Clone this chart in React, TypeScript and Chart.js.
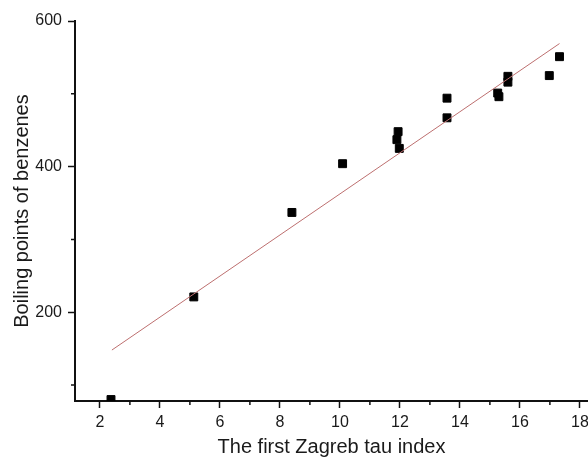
import React, { useEffect, useRef } from "react";
import { Chart, registerables } from "chart.js";

Chart.register(...registerables);

const tauIndex = [2.37, 5.13, 8.4, 10.09, 11.94, 11.9, 11.98, 13.57, 13.57, 15.26, 15.3, 15.6, 15.6, 16.98, 17.32];
const boilingPoints = [80, 221, 337, 404, 448, 437, 425, 494, 467, 501, 496, 524, 516, 525, 551];
const fitX = [2.4, 17.32];
const fitY = [148, 569];
const xMajorTicks = [2, 4, 6, 8, 10, 12, 14, 16, 18];
const xMinorTicks = [3, 5, 7, 9, 11, 13, 15, 17];
const yMajorTicks = [200, 400, 600];
const yMinorTicks = [100, 300, 500];

const FONT = "'Liberation Sans', Arial, Helvetica, sans-serif";

const minorTickPlugin = {
  id: "minorTicks",
  afterDatasetsDraw(chart: any) {
    const { ctx, scales } = chart;
    const xs = scales.x;
    const ys = scales.y;
    ctx.save();
    ctx.strokeStyle = "#111";
    ctx.lineWidth = 1.5;
    ctx.beginPath();
    for (const v of xMinorTicks) {
      const px = xs.getPixelForValue(v);
      ctx.moveTo(px, xs.top);
      ctx.lineTo(px, xs.top + 4);
    }
    for (const v of yMinorTicks) {
      const py = ys.getPixelForValue(v);
      ctx.moveTo(ys.right, py);
      ctx.lineTo(ys.right - 4, py);
    }
    ctx.stroke();
    ctx.restore();
  },
};

export default function App() {
  const ref = useRef<HTMLCanvasElement | null>(null);
  useEffect(() => {
    document.body.style.margin = "0";
    document.body.style.overflow = "hidden";
    if (!ref.current) return;
    const chart = new Chart(ref.current, {
      type: "scatter",
      data: {
        datasets: [
          {
            type: "line",
            data: fitX.map((x, i) => ({ x, y: fitY[i] })),
            borderColor: "#bd6f6f",
            borderWidth: 1,
            pointRadius: 0,
            fill: false,
            clip: 0,
          } as any,
          {
            type: "scatter",
            data: tauIndex.map((x, i) => ({ x, y: boilingPoints[i] })),
            pointStyle: "rect",
            pointRadius: 5.6,
            pointBackgroundColor: "#000",
            pointBorderColor: "#000",
            pointBorderWidth: 1,
            clip: 0,
          } as any,
        ],
      },
      options: {
        animation: false,
        responsive: true,
        maintainAspectRatio: false,
        layout: { padding: { top: 21, left: 0, right: 12, bottom: 0 } },
        plugins: { legend: { display: false }, tooltip: { enabled: false } },
        scales: {
          x: {
            type: "linear",
            min: 1.17,
            max: 18.27,
            afterBuildTicks: (s: any) => {
              s.ticks = xMajorTicks.map((v) => ({ value: v }));
            },
            afterFit: (s: any) => {
              s.height = 60;
              s.paddingLeft = 0;
              s.paddingRight = 0;
            },
            border: { display: true, color: "#111", width: 2 },
            grid: {
              display: true,
              drawOnChartArea: false,
              drawTicks: true,
              tickLength: 7,
              tickWidth: 1.5,
              tickColor: "#111",
            },
            ticks: {
              color: "#1a1a1a",
              font: { family: FONT, size: 16 },
              padding: 5,
              maxRotation: 0,
              autoSkip: false,
            },
            title: {
              display: true,
              text: "The first Zagreb tau index",
              color: "#1a1a1a",
              font: { family: FONT, size: 20 },
              padding: { top: 0, bottom: 2 },
            },
          },
          y: {
            type: "linear",
            min: 78,
            max: 600,
            afterBuildTicks: (s: any) => {
              s.ticks = yMajorTicks.map((v) => ({ value: v }));
            },
            afterFit: (s: any) => {
              s.width = 75;
              s.paddingTop = 0;
              s.paddingBottom = 0;
            },
            border: { display: true, color: "#111", width: 2 },
            grid: {
              display: true,
              drawOnChartArea: false,
              drawTicks: true,
              tickLength: 7,
              tickWidth: 1.5,
              tickColor: "#111",
            },
            ticks: {
              color: "#1a1a1a",
              font: { family: FONT, size: 16 },
              padding: 6,
              autoSkip: false,
            },
            title: {
              display: true,
              text: "Boiling points of benzenes",
              color: "#1a1a1a",
              font: { family: FONT, size: 20 },
              padding: { top: 10, bottom: 0 },
            },
          },
        },
      },
      plugins: [minorTickPlugin],
    });
    return () => chart.destroy();
  }, []);
  return (
    <div style={{ position: "absolute", left: 0, top: 0, width: 588, height: 461, overflow: "hidden" }}>
      <div style={{ position: "relative", width: 600, height: 461 }}>
        <canvas ref={ref} />
      </div>
    </div>
  );
}
